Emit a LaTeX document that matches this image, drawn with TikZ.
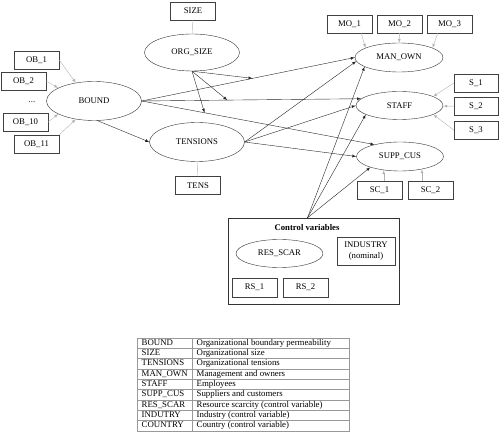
\documentclass[tikz,border=0pt]{standalone}
\usepackage{fontspec}
\setmainfont{Liberation Serif}
\usetikzlibrary{shapes.geometric,calc}

\begin{document}
\begin{tikzpicture}[x=1pt, y=-1pt, font=\fontsize{8.7}{10.5}\selectfont,
  bigell/.style={ellipse, draw, black!80, text=black, minimum width=95pt, minimum height=39pt, inner sep=0pt},
  smallell/.style={ellipse, draw, black!80, text=black, minimum width=87pt, minimum height=28pt, inner sep=0pt},
  ind/.style={draw, black!75, text=black, minimum width=45pt, minimum height=18pt, inner sep=0pt},
  arr/.style={-latex, black!85},
  gry/.style={-latex, gray!60},
  gryline/.style={gray!60},
  tabtxt/.style={anchor=west, inner sep=0pt, text height=6pt, text depth=1.8pt, font=\fontsize{8.8}{10}\selectfont},
  tabline/.style={gray!80, line width=0.5pt}]
\useasboundingbox (0,0) rectangle (500,435);
% Konstrukte links
\node[ind] (SIZE) at (193,11) {SIZE};
\node[bigell, minimum height=37pt] (ORGSIZE) at (192,52.5) {ORG\_SIZE};
\node[bigell] (BOUND) at (94,101) {BOUND};
\node[bigell] (TENSIONS) at (197,142) {TENSIONS};
\node[ind] (TENS) at (198,185.5) {TENS};
\foreach \nm/\xx/\yy in {1/36.5/60, 2/23.5/81, 10/25.5/122, 11/36.5/144}
  \node[ind] (OB\nm) at (\xx,\yy) {OB\_\nm};
\node (dots) at (32,102.5) {...};
% Konstrukte rechts
\node[smallell, minimum width=88pt, minimum height=29pt] (MANOWN) at (399,57.5) {MAN\_OWN};
\foreach \i/\xx in {1/349.5, 2/399.5, 3/449.5}
  \node[ind] (MO\i) at (\xx,24) {MO\_\i};
\node[smallell] (STAFF) at (399.5,105.5) {STAFF};
\foreach \i/\yy in {1/83, 2/106.5, 3/130}
  \node[ind, minimum width=44pt] (S\i) at (476,\yy) {S\_\i};
\node[smallell, minimum height=29pt] (SUPPCUS) at (400,156.5) {SUPP\_CUS};
\foreach \i/\xx in {1/379.5, 2/430.5}
  \node[ind] (SC\i) at (\xx,190) {SC\_\i};
% Kontrollvariablen
\node[draw, black!80, minimum width=171pt, minimum height=86pt, inner sep=0pt] (CTRL) at (313.5,261) {};
\node[font=\fontsize{8.7}{10.5}\selectfont\bfseries] (ctrltitle) at (307,228) {Control variables};
\node[smallell] (RESSCAR) at (279.5,253.5) {RES\_SCAR};
\node[ind, minimum width=58pt, minimum height=28pt, align=center] (INDUSTRY) at (366,251) {INDUSTRY\\(nominal)};
\foreach \i/\xx in {1/254.5, 2/305.5}
  \node[ind, minimum height=19pt] (RS\i) at (\xx,287.5) {RS\_\i};
\coordinate (ctrltop) at ([xshift=-6pt]CTRL.north);
% Messmodell (grau)
\draw[gryline] (SIZE) -- (ORGSIZE);
\draw[gryline] (TENSIONS) -- (TENS);
\draw[gry] (OB1.east) -- (BOUND.135);
\draw[gry] (OB2.east) -- (BOUND.160);
\draw[gry] (OB10.east) -- (BOUND.200);
\draw[gry] (OB11.north east) -- (BOUND.225);
\draw[gry] ([xshift=-11pt]MO1.south east) -- (MANOWN.164);
\draw[gry] (MO2) -- (MANOWN);
\draw[gry] ([xshift=11pt]MO3.south west) -- (MANOWN.16);
\draw[gry] (S1.west) -- (STAFF.15);
\draw[gry] (S2) -- (STAFF);
\draw[gry] (S3.west) -- (STAFF.-15);
\draw[gry] (SC1.north -| SUPPCUS.220) -- (SUPPCUS.220);
\draw[gry] (SC2.north -| SUPPCUS.330) -- (SUPPCUS.330);
% Strukturmodell
\draw[arr] (BOUND.east) -- coordinate[pos=0.52] (mod1) (MANOWN.west);
\draw[arr] (BOUND.east) -- coordinate[pos=0.39] (mod2) (STAFF.170);
\draw[arr] (BOUND.east) -- coordinate[pos=0.27] (mod3) (SUPPCUS.155);
\draw[arr] (BOUND.-80) -- (TENSIONS.west);
\foreach \m in {mod1,mod2,mod3}
  \draw[arr] (ORGSIZE.south) -- (\m);
\draw[arr] (TENSIONS.east) -- (MANOWN.185);
\draw[arr] (TENSIONS.east) -- (STAFF.west);
\draw[arr] (TENSIONS.east) -- (SUPPCUS.west);
\draw[arr] (ctrltop) -- (MANOWN.195);
\draw[arr] (ctrltop) -- (STAFF.195);
\draw[arr] (ctrltop) -- (SUPPCUS.200);
% Legende
\draw[tabline] (137,338) rectangle (349.5,431);
\draw[tabline] (192,338) -- (192,431);
\foreach \abbr/\desc [count=\r] in {BOUND/Organizational boundary permeability, SIZE/Organizational size, TENSIONS/Organizational tensions, MAN\_OWN/Management and owners, STAFF/Employees, SUPP\_CUS/Suppliers and customers, RES\_SCAR/Resource scarcity (control variable), INDUTRY/Industry (control variable), COUNTRY/Country (control variable)}{
  \node[tabtxt] (abbr\r) at (141.5,{338+10.33*\r-5.1}) {\abbr};
  \node[tabtxt] (desc\r) at (196.5,{338+10.33*\r-5.1}) {\desc};
  \ifnum\r<9 \draw[tabline] (137,{338+10.33*\r}) -- (349.5,{338+10.33*\r}); \fi
}
\end{tikzpicture}
\end{document}
